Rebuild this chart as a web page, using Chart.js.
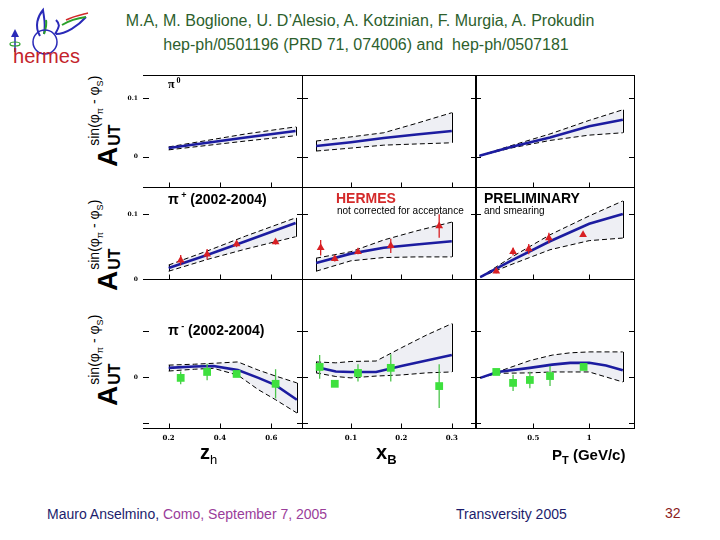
<!DOCTYPE html>
<html>
<head>
<meta charset="utf-8">
<script src="https://cdn.jsdelivr.net/npm/chart.js@4.4.0/dist/chart.umd.min.js"></script>
<style>
  body { margin: 0; width: 720px; height: 540px; background: #fff; position: relative; overflow: hidden; font-family: Arial, "Liberation Sans", sans-serif; }
  .t { position: absolute; white-space: nowrap; line-height: 1; }
  canvas { position: absolute; }
  .ylab { position: absolute; left: 86px; transform-origin: left top; transform: rotate(-90deg); display: flex; align-items: flex-end; white-space: nowrap; line-height: 1; }
  .ylab .A { font: bold 28px Arial, sans-serif; }
  .ylab .ss { display: flex; flex-direction: column; margin-left: 1px; }
  .ylab .sup { font: 14px Arial, sans-serif; margin-bottom: 1px; }
  .ylab .sup sub { font-size: 9px; }
  .ylab .sub { font: bold 16px Arial, sans-serif; }
</style>
</head>
<body>

<!-- logo -->
<svg class="t" style="left:0;top:0" width="95" height="72">
  <path d="M40 36 C34 26 38 16 43 10 C44 18 46 24 44 34" fill="none" stroke="#2a2ab8" stroke-width="2"/>
  <path d="M44 34 C46 28 47 24 46 20" fill="none" stroke="#2aa02a" stroke-width="2"/>
  <path d="M55 34 C60 26 60 24 56 20 M56 34 C66 34 78 26 86 17" fill="none" stroke="#2a2ab8" stroke-width="2"/>
  <path d="M62 25 C70 20 78 18 86 17" fill="none" stroke="#2aa02a" stroke-width="2"/>
  <path d="M66 20 C74 16 80 15 88 13" fill="none" stroke="#d02a2a" stroke-width="1.5"/>
  <circle cx="45" cy="42" r="12" fill="none" stroke="#2a2ab8" stroke-width="1.5"/>
  <path d="M15 52 L15 36" stroke="#2a2ab8" stroke-width="1.5"/>
  <path d="M11 37 L15 29 L19 37 Z" fill="#2a2ab8"/>
  <ellipse cx="15" cy="44" rx="5" ry="2" fill="none" stroke="#2aa02a" stroke-width="1.2"/>
  <text x="13" y="63" font-family="Arial" font-size="21" fill="#c4232b" textLength="67" lengthAdjust="spacingAndGlyphs">hermes</text>
</svg>

<div class="t" style="left:0;width:720px;text-align:center;top:13px;font-size:16px;color:#2d5f2d">M.A, M. Boglione, U. D’Alesio, A. Kotzinian, F. Murgia, A. Prokudin</div>
<div class="t" style="left:6px;width:720px;text-align:center;top:37px;font-size:16px;color:#2d5f2d">hep-ph/0501196 (PRD 71, 074006) and&nbsp; hep-ph/0507181</div>

<!-- y axis titles -->
<div class="ylab" style="top:167px"><span class="A">A</span><span class="ss"><span class="sup">sin(φ<sub>π</sub> - φ<sub>S</sub>)</span><span class="sub">UT</span></span></div>
<div class="ylab" style="top:291px"><span class="A">A</span><span class="ss"><span class="sup">sin(φ<sub>π</sub> - φ<sub>S</sub>)</span><span class="sub">UT</span></span></div>
<div class="ylab" style="top:406px"><span class="A">A</span><span class="ss"><span class="sup">sin(φ<sub>π</sub> - φ<sub>S</sub>)</span><span class="sub">UT</span></span></div>

<div id="panels"></div>

<!-- panel labels -->
<div class="t" style="left:168px;top:76px;font:bold 12px 'Liberation Serif',serif">π<sup style="font-size:8px"> 0</sup></div>
<div class="t" style="left:168px;top:190px;font:bold 14px Arial,sans-serif">π<sup style="font-size:9px"> +</sup> (2002-2004)</div>
<div class="t" style="left:336px;top:190px;font:bold 14px Arial,sans-serif;color:#d42a2a">HERMES</div>
<div class="t" style="left:337px;top:205px;font:10px Arial,sans-serif">not corrected for acceptance</div>
<div class="t" style="left:484px;top:190px;font:bold 14px Arial,sans-serif">PRELIMINARY</div>
<div class="t" style="left:484px;top:205px;font:10px Arial,sans-serif">and smearing</div>
<div class="t" style="left:168px;top:321px;font:bold 14px Arial,sans-serif">π<sup style="font-size:9px"> -</sup> (2002-2004)</div>

<!-- x axis titles -->
<div class="t" style="left:200px;top:441px;font:bold 20px Arial,sans-serif">z<sub style="font:13px Arial,sans-serif">h</sub></div>
<div class="t" style="left:376px;top:441px;font:bold 20px Arial,sans-serif">x<sub style="font:bold 13px Arial,sans-serif">B</sub></div>
<div class="t" style="left:552px;top:446px;font:bold 15px Arial,sans-serif">P<sub style="font:bold 11px Arial,sans-serif">T</sub> (GeV/c)</div>

<!-- footer -->
<div class="t" style="left:47px;top:507px;font-size:14px;color:#1c1c6c">Mauro Anselmino, <span style="color:#9a3d9a">Como, September 7, 2005</span></div>
<div class="t" style="left:456px;top:507px;font-size:14px;color:#1c1c6c">Transversity 2005</div>
<div class="t" style="left:665px;top:506px;font-size:14px;color:#8c1c1c">32</div>

<script>
// ---- tick values / labels
const zTicks = [0.2, 0.4, 0.6];
const zTickLabels = ["0.2", "0.4", "0.6"];
const xbTicks = [0.1, 0.2, 0.3];
const xbTickLabels = ["0.1", "0.2", "0.3"];
const ptTicks = [0.5, 1];
const ptTickLabels = ["0.5", "1"];
const aTicks = [0, 0.1];
const aTickLabels = ["0", "0.1"];
const aTicksMinus = [-0.1, 0, 0.1];
const aTickLabelsMinus = ["", "0", ""];

// ---- pi0 model (no data)
const zModelP0 = [0.2, 0.35, 0.5, 0.695];
const p0zMid = [0.0153, 0.024, 0.033, 0.044];
const p0zUp = [0.017, 0.028, 0.039, 0.051];
const p0zLo = [0.012, 0.0195, 0.027, 0.036];

const xbModelP0 = [0.031, 0.1, 0.165, 0.23, 0.3];
const p0xMid = [0.0186, 0.025, 0.032, 0.038, 0.044];
const p0xUp = [0.027, 0.034, 0.041, 0.057, 0.075];
const p0xLo = [0.010, 0.015, 0.020, 0.022, 0.024];

const ptModelP0 = [0.02, 0.3, 0.65, 1.0, 1.3];
const p0pMid = [0.002, 0.017, 0.033, 0.052, 0.063];
const p0pUp = [0.002, 0.019, 0.039, 0.062, 0.080];
const p0pLo = [0.002, 0.015, 0.028, 0.037, 0.041];

// ---- pi+ model and HERMES data
const zModelPp = [0.2, 0.35, 0.5, 0.695];
const ppzMid = [0.017, 0.037, 0.058, 0.086];
const ppzUp = [0.0215, 0.043, 0.066, 0.094];
const ppzLo = [0.012, 0.030, 0.046, 0.065];
const zDataPp = [0.247, 0.35, 0.465, 0.617];
const ppzData = [0.029, 0.038, 0.054, 0.057];
const ppzErr = [0.008, 0.008, 0.005, 0.004];

const xbModelPp = [0.031, 0.1, 0.165, 0.23, 0.3];
const ppxMid = [0.0246, 0.039, 0.048, 0.053, 0.058];
const ppxUp = [0.032, 0.042, 0.060, 0.074, 0.0875];
const ppxLo = [0.012, 0.028, 0.033, 0.034, 0.034];
const xbDataPp = [0.040, 0.068, 0.114, 0.179, 0.275];
const ppxData = [0.048, 0.031, 0.042, 0.051, 0.0815];
const ppxErr = [0.012, 0.004, 0.004, 0.011, 0.018];

const ptModelPp = [0.027, 0.3, 0.65, 1.0, 1.3];
const pppMid = [0.003, 0.028, 0.058, 0.085, 0.100];
const pppUp = [0.003, 0.033, 0.068, 0.097, 0.120];
const pppLo = [0.003, 0.022, 0.045, 0.059, 0.063];
const ptDataPp = [0.17, 0.32, 0.46, 0.64, 0.945];
const pppData = [0.012, 0.042, 0.046, 0.063, 0.068];
const pppErr = [0.003, 0.006, 0.008, 0.008, 0.003];

// ---- pi- model and HERMES data
const zModelPm = [0.2, 0.3, 0.375, 0.47, 0.55, 0.617, 0.70];
const pmzMid = [0.020, 0.023, 0.024, 0.015, -0.002, -0.018, -0.050];
const pmzUp = [0.026, 0.028, 0.030, 0.033, 0.015, 0.002, -0.013];
const pmzLo = [0.013, 0.017, 0.019, 0.004, -0.028, -0.050, -0.079];
const zDataPm = [0.247, 0.35, 0.465, 0.617];
const pmzData = [-0.002, 0.011, 0.0066, -0.015];
const pmzErr = [0.014, 0.018, 0.004, 0.032];

const xbModelPm = [0.031, 0.07, 0.1, 0.15, 0.2, 0.25, 0.3];
const pmxMid = [0.022, 0.012, 0.011, 0.011, 0.024, 0.036, 0.048];
const pmxUp = [0.033, 0.031, 0.034, 0.035, 0.064, 0.092, 0.117];
const pmxLo = [0.009, 0.001, -0.002, 0.002, 0.0044, 0.009, 0.011];
const xbDataPm = [0.038, 0.068, 0.114, 0.179, 0.275];
const pmxData = [0.022, -0.015, 0.0088, 0.020, -0.020];
const pmxErr = [0.026, 0.003, 0.019, 0.030, 0.048];

const ptModelPm = [0.027, 0.18, 0.47, 0.67, 0.83, 1.0, 1.15, 1.3];
const pmpMid = [-0.002, 0.011, 0.020, 0.027, 0.031, 0.031, 0.025, 0.015];
const pmpUp = [-0.002, 0.011, 0.036, 0.048, 0.053, 0.055, 0.055, 0.055];
const pmpLo = [-0.002, 0.008, 0.009, 0.011, 0.011, 0.011, 0.0, -0.011];
const ptDataPm = [0.17, 0.32, 0.47, 0.65, 0.95];
const pmpData = [0.011, -0.013, -0.0066, 0.002, 0.022];
const pmpErr = [0.003, 0.018, 0.018, 0.022, 0.003];

// ---- layout of the 3x3 grid (page pixels)
const MARGIN = 24;
const cols = [
  { l: 143, r: 302, min: 0.1, max: 0.72, ticks: zTicks, labels: zTickLabels },
  { l: 302, r: 476, min: 0.003, max: 0.348, ticks: xbTicks, labels: xbTickLabels },
  { l: 475, r: 634, min: -0.02, max: 1.4, ticks: ptTicks, labels: ptTickLabels },
];
const rows = [
  { t: 75, b: 187, min: -0.051, max: 0.139, ticks: aTicks, labels: aTickLabels },
  { t: 187, b: 279, min: 0, max: 0.1415, ticks: aTicks, labels: aTickLabels },
  { t: 279, b: 428, min: -0.112, max: 0.215, ticks: aTicksMinus, labels: aTickLabelsMinus },
];

const BLUE = "#1c1ca0";
const BAND = "#eeeff4";
const RED = "#d82024";
const GREEN = "#3ee03e";
const GREEN_ERR = "#4cc44c";

const xy = (xs, ys) => xs.map((x, i) => ({ x: x, y: ys[i] }));

const framePlugin = {
  id: "frame",
  afterDatasetsDraw(chart) {
    const { ctx, chartArea: a } = chart;
    const o = chart.options.plugins.frame;
    const xs = chart.scales.x, ys = chart.scales.y;
    const L = Math.floor(a.left) + 0.5, R = Math.floor(a.right) + 0.5;
    const T = Math.floor(a.top) + 0.5, B = Math.floor(a.bottom) + 0.5;
    ctx.save();
    ctx.strokeStyle = "#000";
    ctx.lineWidth = 1;
    ctx.beginPath();
    ctx.moveTo(a.left, T); ctx.lineTo(a.right + 1, T);
    ctx.moveTo(a.left, B); ctx.lineTo(a.right + 1, B);
    ctx.moveTo(R, a.top); ctx.lineTo(R, a.bottom + 1);
    if (o.col > 0) { ctx.moveTo(L, a.top); ctx.lineTo(L, a.bottom + 1); }
    o.xTicks.forEach((v) => {
      const px = Math.round(xs.getPixelForValue(v)) + 0.5;
      ctx.moveTo(px, B); ctx.lineTo(px, B - 5);
    });
    o.yTicks.forEach((v) => {
      const py = Math.round(ys.getPixelForValue(v)) + 0.5;
      ctx.moveTo(a.left, py); ctx.lineTo(a.left + 6, py);
      ctx.moveTo(a.right, py); ctx.lineTo(a.right - 5, py);
    });
    ctx.stroke();
    ctx.fillStyle = "#000";
    if (o.col === 0) {
      ctx.font = "bold 6px 'DejaVu Serif', serif";
      ctx.textAlign = "right";
      ctx.textBaseline = "middle";
      o.yTicks.forEach((v, i) => ctx.fillText(o.yLabels[i], a.left - 5, ys.getPixelForValue(v)));
    }
    if (o.row === 2) {
      ctx.font = "bold 7px 'DejaVu Serif', serif";
      ctx.textAlign = "center";
      ctx.textBaseline = "middle";
      o.xTicks.forEach((v, i) => ctx.fillText(o.xLabels[i], xs.getPixelForValue(v), a.bottom + 10));
    }
    ctx.restore();
  },
};

const extrasPlugin = {
  id: "extras",
  beforeDatasetDraw(chart, args) {
    const ds = chart.data.datasets[args.index];
    if (!ds.errs) return;
    const ctx = chart.ctx, xs = chart.scales.x, ys = chart.scales.y;
    ctx.save();
    ctx.strokeStyle = ds.errColor;
    ctx.lineWidth = 1.3;
    ds.data.forEach((p, i) => {
      const px = xs.getPixelForValue(p.x);
      ctx.beginPath();
      ctx.moveTo(px, ys.getPixelForValue(p.y - ds.errs[i]));
      ctx.lineTo(px, ys.getPixelForValue(p.y + ds.errs[i]));
      ctx.stroke();
    });
    ctx.restore();
  },
  afterDatasetDraw(chart, args) {
    const ds = chart.data.datasets[args.index];
    if (!ds.caps) return;
    const up = chart.data.datasets[args.index - 1].data;
    const lo = ds.data;
    const ctx = chart.ctx, xs = chart.scales.x, ys = chart.scales.y;
    ctx.save();
    ctx.strokeStyle = "#000";
    ctx.lineWidth = 1;
    ctx.beginPath();
    [0, lo.length - 1].forEach((i) => {
      const px = Math.round(xs.getPixelForValue(lo[i].x)) + 0.5;
      ctx.moveTo(px, ys.getPixelForValue(up[i].y));
      ctx.lineTo(px, ys.getPixelForValue(lo[i].y));
    });
    ctx.stroke();
    ctx.restore();
  },
};

function makePanel(col, row, mx, mid, up, lo, dx, dy, derr, kind) {
  const c = cols[col], r = rows[row];
  const canvas = document.createElement("canvas");
  const w = c.r - c.l + 2 * MARGIN, h = r.b - r.t + 2 * MARGIN;
  canvas.width = w;
  canvas.height = h;
  canvas.style.left = c.l - MARGIN + "px";
  canvas.style.top = r.t - MARGIN + "px";
  canvas.style.width = w + "px";
  canvas.style.height = h + "px";
  document.getElementById("panels").appendChild(canvas);

  const datasets = [];
  if (dx) {
    datasets.push({
      data: xy(dx, dy),
      errs: derr,
      errColor: kind === "tri" ? RED : GREEN_ERR,
      pointStyle: kind === "tri" ? "triangle" : "rect",
      pointRadius: kind === "tri" ? 4.5 : 5.5,
      backgroundColor: kind === "tri" ? RED : GREEN,
      borderColor: kind === "tri" ? RED : GREEN,
      borderWidth: 0,
      showLine: false,
      order: 0,
    });
  }
  datasets.push({ data: xy(mx, mid), showLine: true, borderColor: BLUE, borderWidth: 2.6, pointRadius: 0, fill: false, order: 1 });
  datasets.push({ data: xy(mx, up), showLine: true, borderColor: "#000", borderWidth: 1, borderDash: [5, 3], pointRadius: 0, fill: false, order: 2 });
  datasets.push({ data: xy(mx, lo), showLine: true, borderColor: "#000", borderWidth: 1, borderDash: [5, 3], pointRadius: 0, fill: "-1", backgroundColor: BAND, caps: true, order: 3 });

  new Chart(canvas.getContext("2d"), {
    type: "scatter",
    data: { datasets: datasets },
    options: {
      responsive: false,
      animation: false,
      devicePixelRatio: 1,
      layout: { padding: MARGIN },
      clip: false,
      scales: {
        x: { type: "linear", min: c.min, max: c.max, display: false },
        y: { type: "linear", min: r.min, max: r.max, display: false },
      },
      plugins: {
        legend: { display: false },
        tooltip: { enabled: false },
        frame: { col: col, row: row, xTicks: c.ticks, xLabels: c.labels, yTicks: r.ticks, yLabels: r.labels },
      },
    },
    plugins: [framePlugin, extrasPlugin],
  });
}

makePanel(0, 0, zModelP0, p0zMid, p0zUp, p0zLo);
makePanel(1, 0, xbModelP0, p0xMid, p0xUp, p0xLo);
makePanel(2, 0, ptModelP0, p0pMid, p0pUp, p0pLo);

makePanel(0, 1, zModelPp, ppzMid, ppzUp, ppzLo, zDataPp, ppzData, ppzErr, "tri");
makePanel(1, 1, xbModelPp, ppxMid, ppxUp, ppxLo, xbDataPp, ppxData, ppxErr, "tri");
makePanel(2, 1, ptModelPp, pppMid, pppUp, pppLo, ptDataPp, pppData, pppErr, "tri");

makePanel(0, 2, zModelPm, pmzMid, pmzUp, pmzLo, zDataPm, pmzData, pmzErr, "sq");
makePanel(1, 2, xbModelPm, pmxMid, pmxUp, pmxLo, xbDataPm, pmxData, pmxErr, "sq");
makePanel(2, 2, ptModelPm, pmpMid, pmpUp, pmpLo, ptDataPm, pmpData, pmpErr, "sq");
</script>
</body>
</html>
